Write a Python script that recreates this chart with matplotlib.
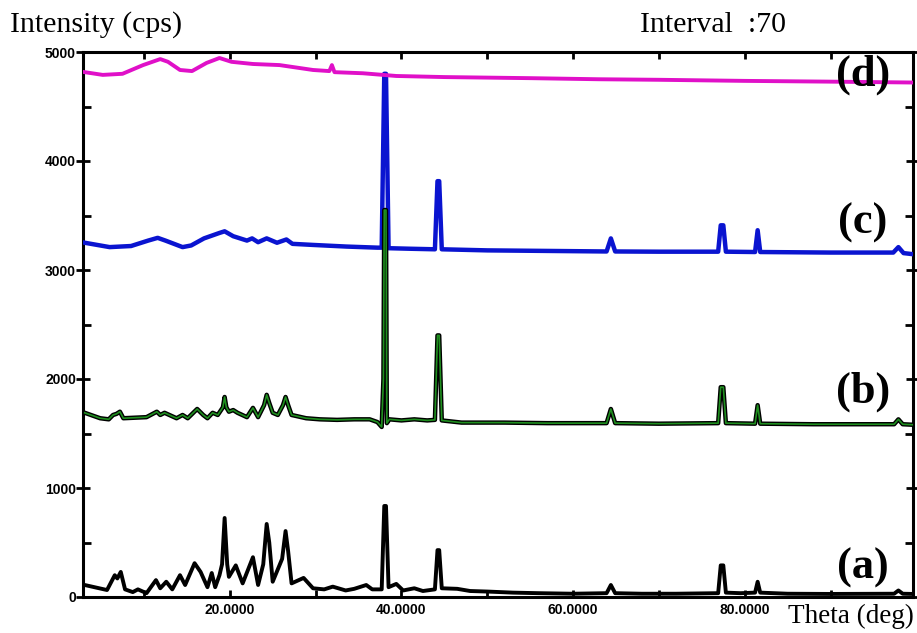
#XRD patterns (a)-(d), stacked
import matplotlib.pyplot as plt
from matplotlib.ticker import MultipleLocator, FormatStrFormatter

# (a) black
a_theta = [3.1, 5.7, 6.6, 6.9, 7.3, 7.8, 8.7, 9.3, 10.3, 11.4, 11.9, 12.6, 13.3, 14.2, 14.8,
           15.9, 16.6, 17.4, 17.9, 18.3, 18.8, 19.1, 19.4, 19.7, 19.9, 20.7, 21.5, 22.7, 23.3,
           23.9, 24.3, 24.6, 25.0, 26.1, 26.5, 26.8, 27.2, 28.6, 29.7, 31.0, 32.0, 33.5, 34.5,
           35.9, 36.6, 37.7, 38.0, 38.2, 38.5, 39.4, 40.2, 41.5, 42.5, 43.9, 44.2, 44.4, 44.7,
           46.5, 48.0, 50.0, 53.0, 56.0, 60.0, 63.9, 64.4, 64.9, 68.0, 72.0, 76.9, 77.2, 77.5,
           77.8, 79.5, 81.2, 81.5, 81.8, 85.0, 90.0, 97.4, 97.9, 98.4, 99.6]
a_int = [110, 64, 200, 170, 230, 70, 45, 70, 35, 155, 80, 140, 70, 200, 110,
         310, 230, 90, 220, 90, 200, 300, 725, 300, 185, 290, 125, 365, 110,
         300, 670, 500, 140, 350, 605, 420, 125, 175, 80, 70, 95, 60, 75,
         110, 70, 70, 835, 835, 90, 120, 60, 80, 55, 70, 430, 430, 80,
         75, 55, 50, 40, 35, 30, 35, 110, 35, 30, 30, 35, 290, 290,
         40, 35, 40, 140, 40, 30, 28, 30, 60, 30, 28]

# (b) green
b_theta = [3.1, 4.9, 5.9, 6.4, 6.8, 7.2, 7.6, 10.3, 11.5, 11.9, 12.4, 13.8, 14.5, 15.1, 16.2,
           16.9, 17.4, 18.0, 18.6, 19.2, 19.4, 19.6, 19.9, 20.4, 20.9, 22.0, 22.7, 23.3, 24.0,
           24.3, 24.6, 25.0, 25.6, 26.2, 26.5, 26.8, 27.2, 28.9, 30.5, 32.5, 34.5, 36.3, 37.2,
           37.7, 37.9, 38.0, 38.2, 38.3, 38.6, 40.0, 41.5, 43.0, 43.9, 44.2, 44.4, 44.7, 47.0,
           52.0, 57.0, 63.9, 64.4, 64.9, 70.0, 76.9, 77.2, 77.5, 77.8, 81.2, 81.5, 81.8, 88.0,
           97.4, 97.9, 98.4, 99.6]
b_int = [1690, 1640, 1630, 1670, 1680, 1700, 1640, 1650, 1700, 1670, 1690, 1640, 1670, 1640, 1725,
         1670, 1640, 1690, 1670, 1740, 1835, 1740, 1700, 1715, 1690, 1650, 1735, 1650, 1760,
         1855, 1780, 1690, 1670, 1760, 1835, 1760, 1670, 1640, 1630, 1625, 1630, 1630, 1605,
         1560, 2000, 3550, 3550, 1595, 1630, 1620, 1630, 1620, 1625, 2400, 2400, 1620, 1600,
         1600, 1595, 1595, 1725, 1595, 1590, 1595, 1925, 1925, 1595, 1590, 1760, 1590, 1585,
         1585, 1630, 1585, 1580]

# (c) blue
c_theta = [3.1, 6.0, 8.5, 10.5, 11.6, 12.5, 14.5, 15.5, 17.0, 18.8, 19.4, 20.4, 22.0, 22.6,
           23.3, 24.3, 25.5, 26.6, 27.3, 29.7, 33.6, 37.2, 37.7, 38.0, 38.2, 38.5, 41.0, 43.9,
           44.2, 44.4, 44.7, 50.0, 57.0, 63.9, 64.4, 64.9, 70.0, 76.9, 77.2, 77.5, 77.8, 81.2,
           81.5, 81.8, 90.0, 97.3, 97.9, 98.5, 99.6]
c_int = [3250, 3210, 3220, 3270, 3295, 3270, 3210, 3225, 3290, 3340, 3355, 3310, 3270, 3290,
         3255, 3290, 3250, 3280, 3240, 3230, 3215, 3205, 3205, 4800, 4800, 3200, 3195, 3190,
         3815, 3815, 3190, 3180, 3175, 3170, 3290, 3170, 3168, 3168, 3410, 3410, 3168, 3165,
         3365, 3165, 3160, 3160, 3210, 3155, 3145]

# (d) magenta
d_theta = [3.1, 5.2, 7.5, 9.9, 11.9, 12.8, 14.2, 15.6, 17.3, 18.8, 20.2, 22.7, 25.8, 29.7,
           31.6, 31.9, 32.2, 35.5, 39.4, 45.0, 50.0, 55.0, 63.0, 70.0, 80.0, 90.0, 99.6]
d_int = [4815, 4790, 4800, 4880, 4935, 4910, 4835, 4825, 4900, 4945, 4910, 4890, 4880, 4835,
         4825, 4880, 4815, 4805, 4780, 4770, 4765, 4760, 4750, 4745, 4735, 4728, 4720]

labels = ['(a)', '(b)', '(c)', '(d)']
label_y = [568, 392, 223, 75]   # pixel rows of the labels

W, H = 917, 633
fig = plt.figure(figsize=(W / 100, H / 100), dpi=100)
ax = fig.add_axes([83 / W, 1 - 597 / H, (913 - 83) / W, (597 - 52) / H])

lw = 2.8
ax.plot(a_theta, a_int, color='black', lw=lw, zorder=3)
ax.plot(c_theta, c_int, color='#0a14d0', lw=lw + 0.4, zorder=4)
ax.plot(b_theta, b_int, color='black', lw=lw + 0.4, zorder=5)
ax.plot(b_theta, b_int, color='#1f8f1f', lw=1.2, zorder=6)
ax.plot(d_theta, d_int, color='#e010c8', lw=lw, zorder=4)

ax.set_xlim(2.9, 99.6)
ax.set_ylim(0, 5000)

ax.xaxis.set_major_locator(MultipleLocator(20))
ax.xaxis.set_minor_locator(MultipleLocator(10))
ax.xaxis.set_major_formatter(FormatStrFormatter('%.4f'))
ax.yaxis.set_major_locator(MultipleLocator(1000))
ax.yaxis.set_minor_locator(MultipleLocator(500))
ax.yaxis.set_major_formatter(FormatStrFormatter('%d'))

ax.tick_params(axis='x', which='both', direction='in', top=True, length=5, width=2, pad=4)
ax.tick_params(axis='y', which='major', direction='inout', right=True, length=10, width=2, pad=0)
ax.tick_params(axis='y', which='minor', direction='in', right=True, length=6, width=2)
for t in ax.get_xticklabels() + ax.get_yticklabels():
    t.set_fontfamily('Liberation Sans')
    t.set_fontweight('bold')
    t.set_fontsize(10)

for s in ax.spines.values():
    s.set_linewidth(2.2)

for lab, py in zip(labels, label_y):
    fig.text(863 / W, 1 - py / H, lab, family='Liberation Serif', fontweight='bold',
             fontsize=32, ha='center', va='center')

fig.text(10 / W, 1 - 32 / H, 'Intensity (cps)', family='Liberation Serif', fontsize=21.5,
         va='baseline', ha='left')
fig.text(640 / W, 1 - 32 / H, 'Interval  :70', family='Liberation Serif', fontsize=21.5,
         va='baseline', ha='left')
fig.text(788 / W, 1 - 623 / H, 'Theta (deg)', family='Liberation Serif', fontsize=19.5,
         va='baseline', ha='left')

fig.savefig('out.png', dpi=100)
